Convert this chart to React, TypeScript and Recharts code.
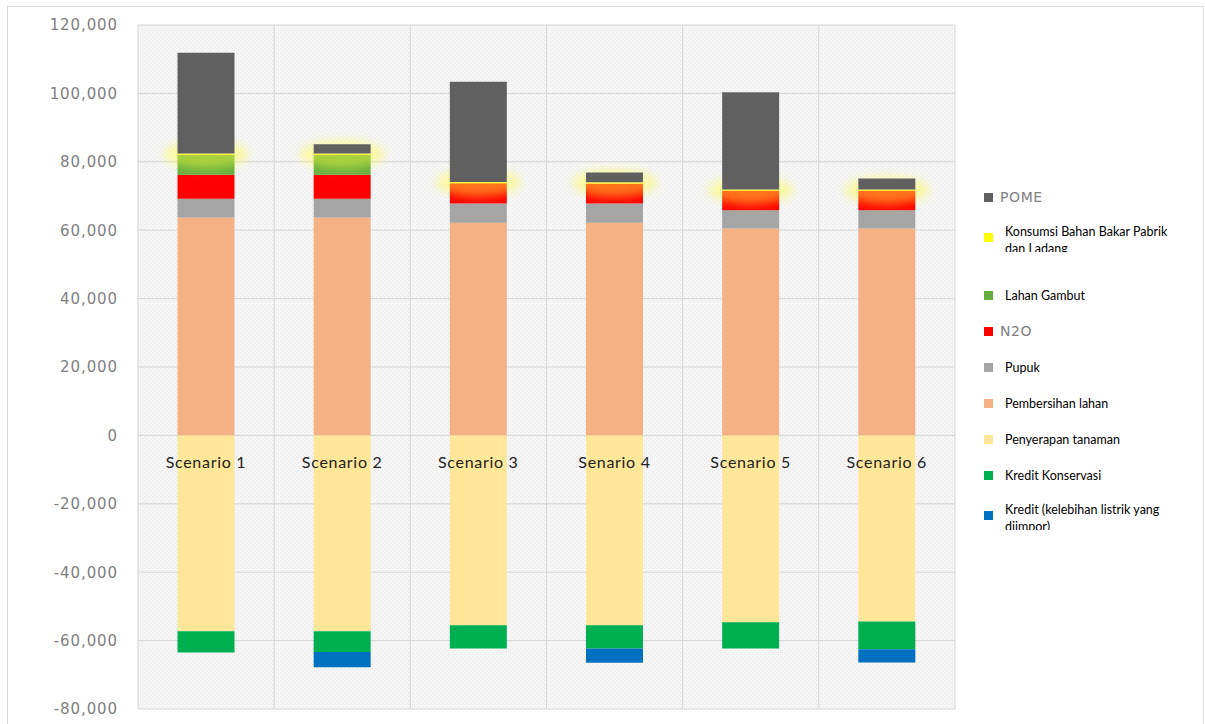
import { BarChart, Bar, XAxis, YAxis, CartesianGrid, LabelList } from "recharts";

const scenarios = ["Scenario 1", "Scenario 2", "Scenario 3", "Senario 4", "Scenario 5", "Scenario 6"];

const pembersihanLahan = [63700, 63700, 62200, 62200, 60500, 60500];
const pupuk = [5500, 5500, 5600, 5600, 5300, 5300];
const n2o = [7000, 7000, 5900, 5800, 5700, 5700];
const lahanGambut = [5800, 5800, 0, 0, 0, 0];
const konsumsiBahanBakar = [400, 400, 400, 400, 400, 400];
const pome = [29500, 2700, 29300, 2900, 28400, 3200];
const penyerapanTanaman = [-57300, -57300, -55500, -55500, -54600, -54400];
const kreditKonservasi = [-6200, -6000, -6800, -6800, -7700, -8100];
const kreditListrik = [0, -4500, 0, -4200, 0, -3900];

const yTicks = [-80000, -60000, -40000, -20000, 0, 20000, 40000, 60000, 80000, 100000, 120000];

// legend order (top to bottom)
const legendItems = [
  { key: "pome", name: "POME" },
  { key: "konsumsi", name: "Konsumsi Bahan Bakar Pabrik dan Ladang" },
  { key: "gambut", name: "Lahan Gambut" },
  { key: "n2o", name: "N2O" },
  { key: "pupuk", name: "Pupuk" },
  { key: "pembersihan", name: "Pembersihan lahan" },
  { key: "penyerapan", name: "Penyerapan tanaman" },
  { key: "konservasi", name: "Kredit Konservasi" },
  { key: "listrik", name: "Kredit (kelebihan listrik yang diimpor)" },
];

const COLORS: Record<string, string> = {
  pome: "#606060",
  konsumsi: "#ffff00",
  gambut: "#66ad3f",
  n2o: "#ff0000",
  pupuk: "#a5a5a5",
  pembersihan: "#f4b183",
  penyerapan: "#ffe699",
  konservasi: "#00b050",
  listrik: "#0070c0",
};

const data = scenarios.map((name, i) => ({
  name,
  pembersihan: pembersihanLahan[i],
  pupuk: pupuk[i],
  n2o: n2o[i],
  gambut: lahanGambut[i],
  konsumsi: konsumsiBahanBakar[i],
  pome: pome[i],
  penyerapan: penyerapanTanaman[i],
  konservasi: kreditKonservasi[i],
  listrik: kreditListrik[i],
}));

const nameOf = (k: string) => legendItems.find((l) => l.key === k)!.name;

// thin fuel segment drawn with a soft yellow halo, like the original
function GlowSegment(props: any) {
  const { x, y, width, height, fill } = props;
  const cy = y + height / 2;
  return (
    <g>
      <ellipse
        cx={x + width / 2}
        cy={cy}
        rx={width / 2 + 14}
        ry={14}
        fill="#ffff40"
        opacity={0.45}
        filter="url(#konsumsiGlow)"
      />
      <rect x={x} y={y} width={width} height={Math.max(height, 1)} fill={fill} opacity={0.6} />
    </g>
  );
}

function ScenarioLabel(props: any) {
  const { x, y, width, height, value } = props;
  const top = Math.min(y, y + height);
  return (
    <text
      x={x + width / 2}
      y={top + 26}
      textAnchor="middle"
      dominantBaseline="central"
      fontFamily="Lato, sans-serif"
      fontSize={16}
      letterSpacing={0.7}
      fill="#222"
    >
      {value}
    </text>
  );
}

function LegendBox() {
  return (
    <div style={{ position: "absolute", left: 984, top: 179, width: 221 }}>
      {legendItems.map((item) => {
        const wrapped = item.name.length > 25;
        const plain = item.key === "pome" || item.key === "n2o";
        return (
          <div
            key={item.key}
            style={{
              display: "flex",
              alignItems: wrapped ? "flex-start" : "center",
              height: wrapped ? 62 : 36,
              paddingTop: wrapped ? 8 : 0,
              boxSizing: "border-box",
            }}
          >
            <div
              style={{
                width: 9,
                height: 9,
                background: COLORS[item.key],
                marginTop: wrapped ? 10 : 0,
                flexShrink: 0,
              }}
            />
            <div
              style={{
                marginLeft: plain ? 7 : 12,
                fontFamily: plain ? "'DejaVu Sans', sans-serif" : "Lato, sans-serif",
                fontSize: plain ? 14 : 12.5,
                letterSpacing: plain ? 0.6 : 0,
                color: plain ? "#7f7f7f" : "#000",
                lineHeight: "17px",
                height: wrapped ? 29 : "auto",
                overflow: "hidden",
                width: 175,
              }}
            >
              {item.name}
            </div>
          </div>
        );
      })}
    </div>
  );
}

export default function App() {
  return (
    <div style={{ position: "absolute", left: 0, top: 0, width: 1205, height: 724, background: "#fff", overflow: "hidden" }}>
      <div
        style={{
          position: "absolute",
          left: 7,
          top: 6,
          width: 1195,
          height: 730,
          borderTop: "1px solid #d9d9d9",
          borderLeft: "1px solid #d9d9d9",
          borderRight: "1px solid #e6e6e6",
        }}
      />
      <BarChart
        width={1205}
        height={724}
        data={data}
        stackOffset="sign"
        barCategoryGap="29%"
        margin={{ top: 25, right: 250, bottom: 15, left: 8 }}
        style={{ position: "absolute", left: 0, top: 0 }}
      >
        <defs>
          <pattern id="dots" width="4" height="4" patternUnits="userSpaceOnUse">
            <rect width="4" height="4" fill="#f6f6f6" />
            <rect x="0" y="0" width="1" height="1" fill="#e3e3e3" />
            <rect x="2" y="2" width="1" height="1" fill="#e3e3e3" />
          </pattern>
          <filter id="konsumsiGlow" x="-50%" y="-150%" width="200%" height="400%">
            <feGaussianBlur stdDeviation="5" />
          </filter>
        </defs>
        <CartesianGrid
          fill="url(#dots)"
          fillOpacity={1}
          stroke="#d6d6d6"
          verticalCoordinatesGenerator={({ offset }: any) =>
            scenarios.map((_, i) => offset.left + (i * offset.width) / scenarios.length).concat(offset.left + offset.width)
          }
        />
        <XAxis dataKey="name" hide />
        <YAxis
          domain={[-80000, 120000]}
          ticks={yTicks}
          width={130}
          axisLine={false}
          tickLine={false}
          tickSize={0}
          tickMargin={20}
          tick={{ fill: "#7f7f7f", fontSize: 15, fontFamily: "'DejaVu Sans', sans-serif", letterSpacing: 0.9 }}
          tickFormatter={(v: number) => v.toLocaleString("en-US")}
          interval={0}
        />
        <Bar dataKey="pembersihan" name={nameOf("pembersihan")} stackId="a" fill={COLORS.pembersihan} isAnimationActive={false} />
        <Bar dataKey="pupuk" name={nameOf("pupuk")} stackId="a" fill={COLORS.pupuk} isAnimationActive={false} />
        <Bar dataKey="n2o" name={nameOf("n2o")} stackId="a" fill={COLORS.n2o} isAnimationActive={false} />
        <Bar dataKey="gambut" name={nameOf("gambut")} stackId="a" fill={COLORS.gambut} isAnimationActive={false} />
        <Bar
          dataKey="konsumsi"
          name={nameOf("konsumsi")}
          stackId="a"
          fill={COLORS.konsumsi}
          shape={(p: any) => <GlowSegment {...p} />}
          isAnimationActive={false}
        />
        <Bar dataKey="pome" name={nameOf("pome")} stackId="a" fill={COLORS.pome} isAnimationActive={false} />
        <Bar dataKey="penyerapan" name={nameOf("penyerapan")} stackId="a" fill={COLORS.penyerapan} isAnimationActive={false}>
          <LabelList dataKey="name" content={(p: any) => <ScenarioLabel {...p} />} />
        </Bar>
        <Bar dataKey="konservasi" name={nameOf("konservasi")} stackId="a" fill={COLORS.konservasi} isAnimationActive={false} />
        <Bar dataKey="listrik" name={nameOf("listrik")} stackId="a" fill={COLORS.listrik} isAnimationActive={false} />
      </BarChart>
      <LegendBox />
    </div>
  );
}
